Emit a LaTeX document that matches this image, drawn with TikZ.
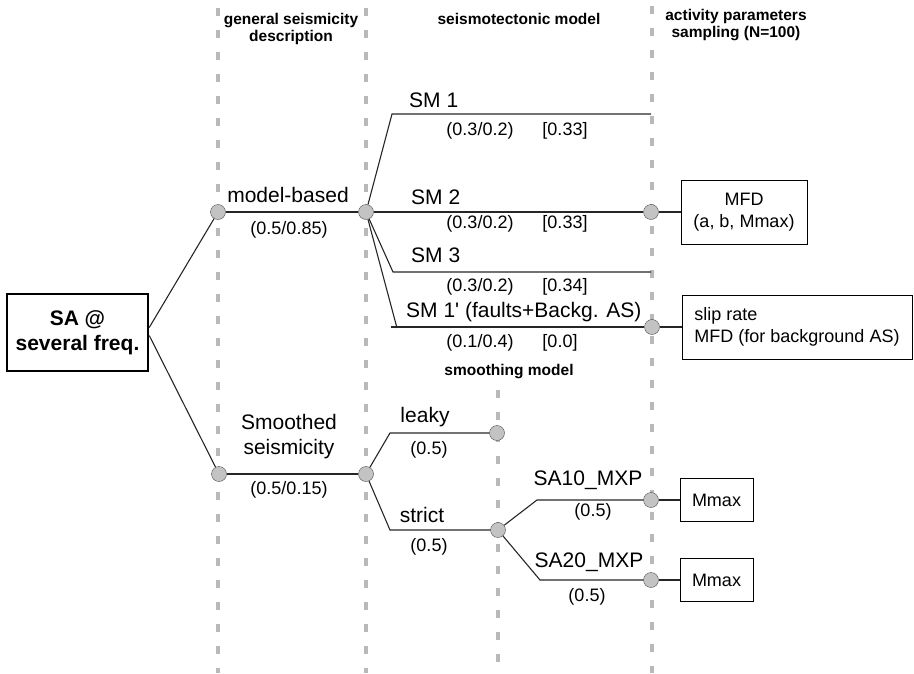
\documentclass[tikz,border=0pt]{standalone}
\usepackage{fontspec}
\setmainfont{Liberation Sans}
\definecolor{guideGray}{RGB}{185,185,185}
\definecolor{chanceGray}{RGB}{195,195,195}
\newcommand{\brfont}{\fontsize{21}{25}\selectfont}
\newcommand{\wtfont}{\fontsize{18}{21.5}\selectfont}
\newcommand{\hdfont}{\fontsize{15.5}{17}\selectfont\bfseries}

\begin{document}
\begin{tikzpicture}[x=1pt, y=-1pt,
    guide/.style={guideGray, line width=4pt, dash pattern=on 8pt off 14pt},
    chance/.style={circle, draw=black!70, fill=chanceGray, minimum size=15pt, inner sep=0pt},
    branch/.style={line width=1.1pt, black!85},
    infobox/.style={draw, line width=1pt, inner sep=0pt, font=\wtfont},
    lbl/.style={font=\brfont, inner sep=0pt},
    wt/.style={font=\wtfont, inner sep=0pt},
    hdr/.style={font=\hdfont, align=center, inner sep=0pt}]
    \useasboundingbox (0,0) rectangle (914,673);

    % Columnas (lineas guia)
    \draw[guide] (218,8) -- (218,673);
    \draw[guide] (366,8) -- (366,673);
    \draw[guide] (652,6) -- (652,673);
    \draw[guide] (498,390) -- (498,665);

    % Encabezados
    \node[hdr] at (291,29) {general seismicity\\description};
    \node[hdr] at (519,19) {seismotectonic model};
    \node[hdr] at (736,25) {activity parameters\\sampling (N=100)};
    \node[hdr] at (509,372) {smoothing model};

    % Raiz
    \node[draw, line width=2.5pt, minimum width=141pt, minimum height=77pt, align=center,
          font=\fontsize{21}{25}\selectfont\bfseries] (root) at (77.5,332.5) {SA @\\several freq.};

    % Nodos de azar
    \node[chance] (mbA) at (218,212) {};
    \node[chance] (mbB) at (366,212) {};
    \node[chance] (ssA) at (219,474) {};
    \node[chance] (ssB) at (366,474) {};
    \node[chance] (sm2End) at (651,212) {};
    \node[chance] (sm1pEnd) at (652,327) {};
    \node[chance] (leakyEnd) at (497,433) {};
    \node[chance] (strictEnd) at (498,530) {};
    \node[chance] (saTenEnd) at (651,500) {};
    \node[chance] (saTwentyEnd) at (651,580) {};

    % Codos de las ramas
    \coordinate (sm1Knee) at (392,114);
    \coordinate (sm1End) at (651,114);
    \coordinate (sm3Knee) at (393,272);
    \coordinate (sm3End) at (651,272);
    \coordinate (sm1pKnee) at (397,328);
    \coordinate (sm1pStart) at (391,327);
    \coordinate (leakyKnee) at (390,433);
    \coordinate (strictKnee) at (390,530);
    \coordinate (saTenKnee) at (537,500);
    \coordinate (saTwentyKnee) at (540,580);

    % Parametros
    \node[infobox, minimum width=126pt, minimum height=64pt, align=center] (mfdBox) at (744,212) {MFD\\(a, b, Mmax)};
    \node[infobox, minimum width=230pt, minimum height=64pt, align=left] (slipBox) at (797,327) {slip rate\\MFD (for background AS)};
    \node[infobox, minimum width=73pt, minimum height=43pt] (mmaxTen) at (716.5,500) {Mmax};
    \node[infobox, minimum width=73pt, minimum height=43pt] (mmaxTwenty) at (716.5,580) {Mmax};

    % Ramas
    \draw[branch] ([yshift=5pt]root.east) -- (mbA);
    \draw[branch] ([yshift=-3pt]root.east) -- (ssA);
    \draw[branch] (mbA) -- (mbB);
    \draw[branch] (ssA) -- (ssB);
    \draw[branch] (mbB) -- (sm1Knee) -- (sm1End);
    \draw[branch] (mbB) -- (sm2End);
    \draw[branch] (mbB) -- (sm3Knee) -- (sm3End);
    \draw[branch] (mbB) -- (sm1pKnee);
    \draw[branch] (sm1pStart) -- (sm1pEnd);
    \draw[branch] (ssB) -- (leakyKnee) -- (leakyEnd);
    \draw[branch] (ssB) -- (strictKnee) -- (strictEnd);
    \draw[branch] (strictEnd) -- (saTenKnee) -- (saTenEnd);
    \draw[branch] (strictEnd) -- (saTwentyKnee) -- (saTwentyEnd);
    \draw[branch] (sm2End) -- (mfdBox);
    \draw[branch] (sm1pEnd) -- (slipBox);
    \draw[branch] (saTenEnd) -- (mmaxTen);
    \draw[branch] (saTwentyEnd) -- (mmaxTwenty);

    % Etiquetas y pesos
    \node[lbl] at (288,195) {model-based};
    \node[wt] at (289,230) {(0.5/0.85)};
    \node[lbl, align=center] at (289,437) {Smoothed\\seismicity};
    \node[wt] at (289,490) {(0.5/0.15)};
    \node[lbl, anchor=west] at (409,100) {SM 1};
    \node[wt] at (480,131) {(0.3/0.2)};
    \node[wt] at (565,131) {[0.33]};
    \node[lbl, anchor=west] at (411,197) {SM 2};
    \node[wt] at (480,224) {(0.3/0.2)};
    \node[wt] at (565,224) {[0.33]};
    \node[lbl, anchor=west] at (411,255) {SM 3};
    \node[wt] at (480,287) {(0.3/0.2)};
    \node[wt] at (565,287) {[0.34]};
    \node[lbl, anchor=west] at (406,312) {SM 1\textquotesingle{} (faults+Backg. AS)};
    \node[wt] at (480,343) {(0.1/0.4)};
    \node[wt] at (560,343) {[0.0]};
    \node[lbl] at (425,417) {leaky};
    \node[wt] at (429,450) {(0.5)};
    \node[lbl] at (422,515) {strict};
    \node[wt] at (429,547) {(0.5)};
    \node[lbl] at (588,480) {SA10\_MXP};
    \node[wt] at (593,512) {(0.5)};
    \node[lbl] at (589,562) {SA20\_MXP};
    \node[wt] at (587,597) {(0.5)};
\end{tikzpicture}
\end{document}
